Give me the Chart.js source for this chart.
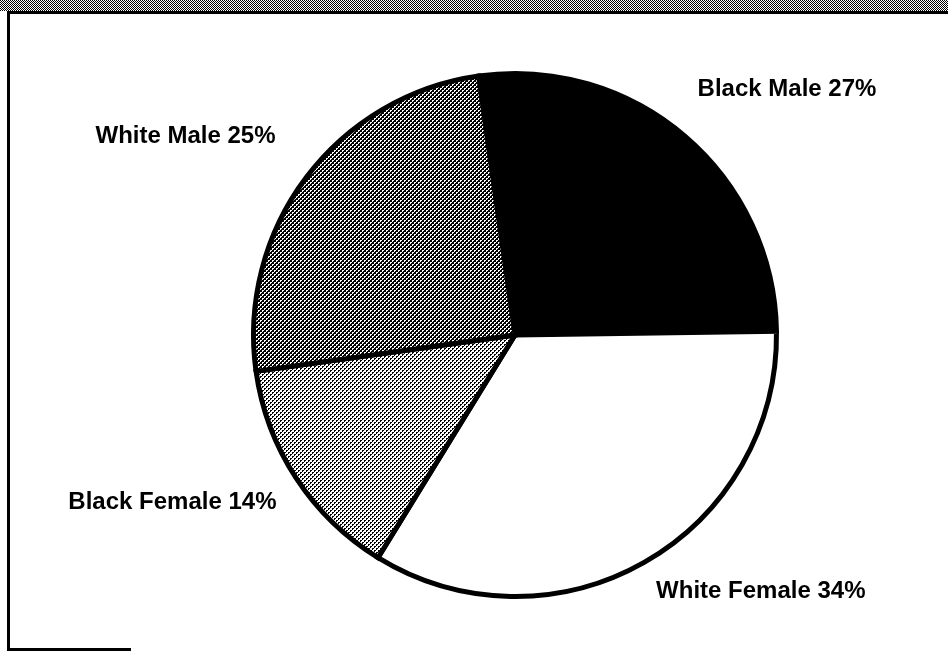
<!DOCTYPE html>
<html>
<head>
<meta charset="utf-8">
<script src="https://cdn.jsdelivr.net/npm/chart.js@4"></script>
<style>
  html, body { margin: 0; padding: 0; background: #fff; }
  #wrap { width: 948px; height: 652px; position: relative; }
</style>
</head>
<body>
<div id="wrap"><canvas id="pieChart" width="948" height="652"></canvas></div>
<script>
// Chart data
const groups = ['Black Male', 'White Female', 'Black Female', 'White Male'];
const shares = [27, 34, 14, 25];

// Make a small dither pattern, like the scanned halftone fills
function makePattern(size, base, dotColor, dots) {
    const c = document.createElement('canvas');
    c.width = size;
    c.height = size;
    const g = c.getContext('2d');
    g.fillStyle = base;
    g.fillRect(0, 0, size, size);
    g.fillStyle = dotColor;
    dots.forEach(p => g.fillRect(p[0], p[1], 1, 1));
    return g.createPattern(c, 'repeat');
}

const ctx = document.getElementById('pieChart').getContext('2d');
const dotCells = [[0, 0], [1, 0], [0, 1], [2, 2], [3, 2], [2, 3]];
const darkFill = makePattern(4, '#000', '#fff', dotCells);
const lightFill = makePattern(4, '#fff', '#000', dotCells);
const bandFill = makePattern(2, '#fff', '#000', [[0, 0], [1, 1]]);

// Label anchors, relative to pie centre in units of radius
const labelPlaces = [[1.04, -0.94], [0.94, 0.98], [-1.31, 0.64], [-1.26, -0.76]];

// Frame: hatched band on top, black rules left and bottom
const framePlugin = {
    id: 'frame',
    beforeDraw(chart) {
        const c = chart.ctx;
        c.save();
        c.fillStyle = '#fff';
        c.fillRect(0, 0, chart.width, chart.height);
        c.fillStyle = bandFill;
        c.fillRect(0, 0, chart.width, 11);
        c.fillStyle = '#000';
        c.fillRect(7, 11, chart.width - 7, 3);
        c.fillRect(7, 11, 3, 640);
        c.fillRect(7, 648, 124, 3);
        c.restore();
    }
};

const labelPlugin = {
    id: 'sliceLabels',
    afterDraw(chart) {
        const meta = chart.getDatasetMeta(0);
        const c = chart.ctx;
        c.save();
        c.font = 'bold 24px "Liberation Sans", Arial, sans-serif';
        c.fillStyle = '#000';
        c.textAlign = 'center';
        c.textBaseline = 'middle';
        meta.data.forEach((arc, i) => {
            const r = arc.outerRadius;
            const x = arc.x + labelPlaces[i][0] * r;
            const y = arc.y + labelPlaces[i][1] * r;
            c.fillText(groups[i] + ' ' + shares[i] + '%', x, y);
        });
        c.restore();
    }
};

new Chart(ctx, {
    type: 'pie',
    data: {
        labels: groups,
        datasets: [{
            data: shares,
            backgroundColor: ['#000', '#fff', lightFill, darkFill],
            borderColor: '#000',
            borderWidth: 5,
            borderJoinStyle: 'miter'
        }]
    },
    options: {
        responsive: false,
        animation: false,
        rotation: -8,
        layout: {
            padding: { left: 251, right: 169, top: 70, bottom: 52 }
        },
        plugins: {
            legend: { display: false },
            tooltip: { enabled: false }
        }
    },
    plugins: [framePlugin, labelPlugin]
});
</script>
</body>
</html>
